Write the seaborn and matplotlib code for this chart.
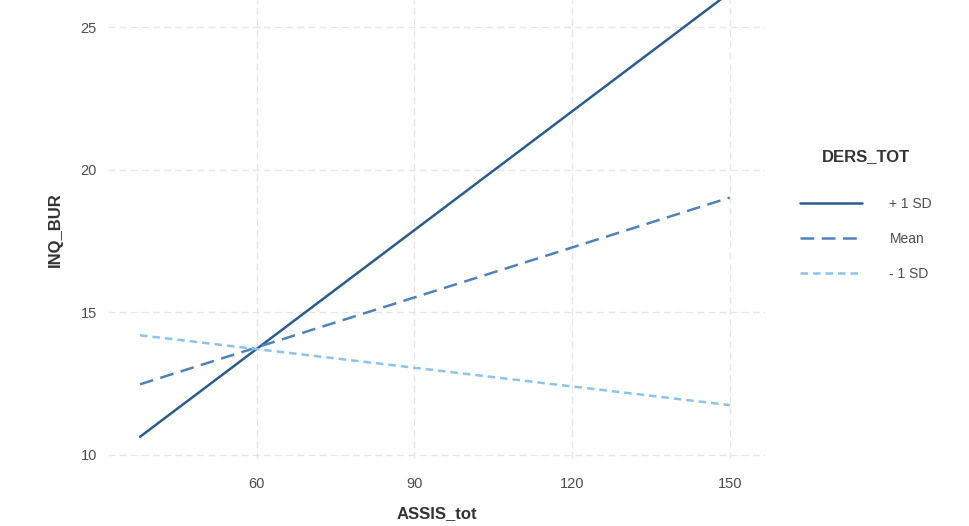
import matplotlib
matplotlib.use("Agg")
import matplotlib.pyplot as plt
import seaborn as sns
import pandas as pd

# Data
assis_tot = [37.8, 150.0]
plus_1sd = [10.63, 26.21]
mean_vals = [12.47, 19.02]
minus_1sd = [14.19, 11.74]
series_labels = ["+ 1 SD", "Mean", "- 1 SD"]
x_ticks = [60, 90, 120, 150]
y_ticks = [10, 15, 20, 25]

rows = []
for lab, ys in zip(series_labels, [plus_1sd, mean_vals, minus_1sd]):
    for x, y in zip(assis_tot, ys):
        rows.append({"ASSIS_tot": x, "INQ_BUR": y, "DERS_TOT": lab})
df = pd.DataFrame(rows)

sns.set_theme(style="white")
plt.rcParams['font.family'] = ['Liberation Sans', 'DejaVu Sans']

fig = plt.figure(figsize=(9.7, 5.26), dpi=100)
ax = fig.add_axes([108/970, 1 - 459/526, (765-108)/970, 459/526])

palette = {"+ 1 SD": "#2b5c8f", "Mean": "#4f82bb", "- 1 SD": "#8ac3ee"}
dashes = {"+ 1 SD": "", "Mean": (5.5, 3), "- 1 SD": (3, 2)}
sns.lineplot(data=df, x="ASSIS_tot", y="INQ_BUR", hue="DERS_TOT", style="DERS_TOT",
             palette=palette, dashes=dashes, hue_order=series_labels,
             style_order=series_labels, linewidth=1.8, ax=ax, legend=True)

ax.set_xlim(31.7, 156.7)
ax.set_ylim(9.85, 25.95)
ax.set_xticks(x_ticks)
ax.set_yticks(y_ticks)
ax.grid(True, color="#e6e6e6", linestyle=(0, (5, 3)), linewidth=1.0)
for s in ax.spines.values():
    s.set_visible(False)
ax.tick_params(axis="both", length=0, labelsize=10.5, colors="#4d4d4d")
ax.tick_params(axis="x", pad=13)
ax.tick_params(axis="y", pad=8)
ax.set_xlabel("ASSIS_tot", fontsize=12, fontweight="bold", color="#333333", labelpad=11)
ax.set_ylabel("INQ_BUR", fontsize=12, fontweight="bold", color="#333333", labelpad=13)

leg = ax.legend(title="DERS_TOT", loc="center left", bbox_to_anchor=(1.035, 0.532),
                frameon=False, fontsize=10, title_fontsize=12, handlelength=4.4,
                handletextpad=2.0, labelspacing=1.5)
leg.get_title().set_fontweight("bold")
leg.get_title().set_color("#333333")
leg._legend_box.sep = 24
for t in leg.get_texts():
    t.set_color("#4d4d4d")
for h in leg.get_lines():
    h.set_linewidth(1.8)

fig.savefig("out.png", dpi=100)
